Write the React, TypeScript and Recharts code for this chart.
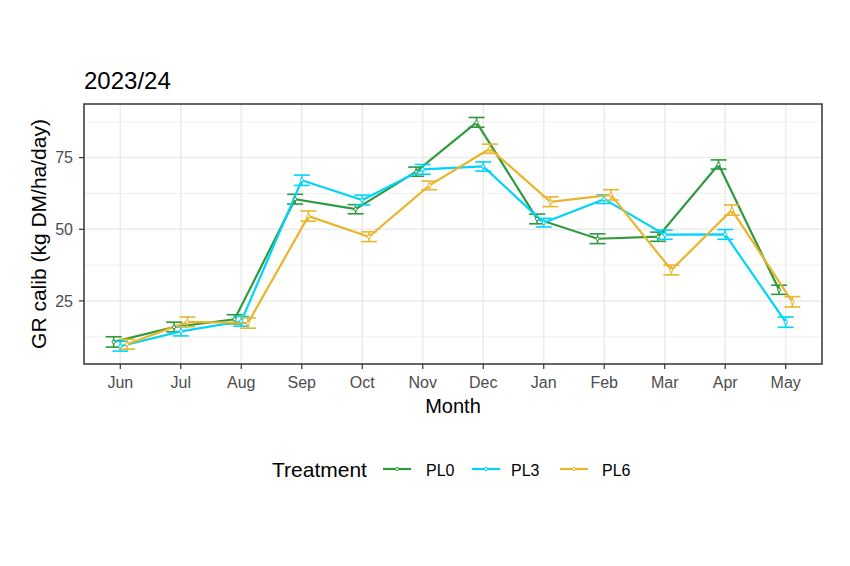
import React from 'react';
import { ComposedChart, Line, XAxis, YAxis, CartesianGrid, ErrorBar } from 'recharts';

const months = ['Jun', 'Jul', 'Aug', 'Sep', 'Oct', 'Nov', 'Dec', 'Jan', 'Feb', 'Mar', 'Apr', 'May'];

const pl0 = [10.7, 15.9, 18.6, 60.5, 57.0, 70.1, 87.3, 53.6, 46.7, 47.4, 72.6, 28.9];
const pl0Err = [1.8, 1.7, 1.6, 1.7, 1.6, 1.6, 1.7, 1.7, 1.7, 1.6, 1.6, 1.6];
const pl3 = [9.2, 14.4, 17.9, 67.1, 60.2, 70.9, 71.9, 52.3, 60.5, 48.1, 48.2, 17.6];
const pl3Err = [1.7, 1.6, 1.7, 1.8, 1.7, 1.7, 1.6, 1.5, 1.5, 1.6, 1.7, 1.8];
const pl6 = [9.9, 17.7, 17.3, 54.6, 47.4, 65.3, 78.1, 59.6, 62.0, 35.8, 56.7, 24.7];
const pl6Err = [1.7, 1.7, 1.8, 1.8, 1.7, 1.5, 1.6, 1.7, 1.8, 1.7, 1.8, 1.8];

const yTicks = [25, 50, 75];
const yMinor = [12.5, 37.5, 62.5, 87.5];
const xTicks = months.map((_, i) => i);

const GREEN = '#2E9A3E';
const CYAN = '#00D4FA';
const YELLOW = '#E9B52B';

const series = [
  { name: 'PL0', values: pl0, errs: pl0Err, color: GREEN, dodge: -0.11 },
  { name: 'PL3', values: pl3, errs: pl3Err, color: CYAN, dodge: 0 },
  { name: 'PL6', values: pl6, errs: pl6Err, color: YELLOW, dodge: 0.11 },
];

const build = (values: number[], errs: number[], dodge: number) =>
  values.map((v, i) => ({ x: i + dodge, y: v, err: errs[i] }));

const FONT = '"Liberation Sans", Arial, sans-serif';

export default function App() {
  const W = 850;
  const H = 566;
  const left = 84;
  const top = 104;
  const right = 822;
  const bottom = 364;
  return (
    <div style={{ position: 'absolute', left: 0, top: 0, width: W, height: H, background: '#fff', fontFamily: FONT }}>
      <ComposedChart
        width={W}
        height={H}
        margin={{ top: top, right: W - right, bottom: 172, left: 0 }}
      >
        <CartesianGrid
          horizontalValues={yMinor}
          vertical={false}
          stroke="#EBEBEB"
          strokeWidth={0.8}
          fill="none"
        />
        <CartesianGrid
          horizontalValues={yTicks}
          verticalValues={xTicks}
          stroke="#EBEBEB"
          strokeWidth={1.5}
          fill="none"
        />
        <XAxis
          type="number"
          dataKey="x"
          domain={[-0.6, 11.6]}
          ticks={xTicks}
          tickFormatter={(v: number) => months[Math.round(v)]}
          allowDataOverflow
          axisLine={false}
          tickLine={{ stroke: '#333333', strokeWidth: 1.2 }}
          tickSize={5}
          tickMargin={8}
          height={30}
          interval={0}
          tick={{ fill: '#4D4D4D', fontSize: 16, fontFamily: FONT }}
        />
        <YAxis
          type="number"
          domain={[3.0, 93.7]}
          ticks={yTicks}
          allowDataOverflow
          axisLine={false}
          tickLine={{ stroke: '#333333', strokeWidth: 1.2 }}
          tickSize={5}
          tickMargin={6}
          width={left}
          tick={{ fill: '#4D4D4D', fontSize: 16, fontFamily: FONT }}
        />
        {series.map((s) => (
          <Line
            key={s.name}
            data={build(s.values, s.errs, s.dodge)}
            dataKey="y"
            name={s.name}
            type="linear"
            stroke={s.color}
            strokeWidth={2.2}
            dot={{ r: 1.6, fill: '#fff', stroke: s.color, strokeWidth: 1 }}
            activeDot={false}
            isAnimationActive={false}
          >
            <ErrorBar dataKey="err" width={8} strokeWidth={1.6} stroke={s.color} direction="y" />
          </Line>
        ))}
      </ComposedChart>
      <svg
        width={W}
        height={H}
        style={{ position: 'absolute', left: 0, top: 0, pointerEvents: 'none' }}
        fontFamily={FONT}
      >
        <rect x={left} y={top} width={right - left} height={bottom - top} fill="none" stroke="#333333" strokeWidth={1.5} />
        <text x={84} y={89} fontSize={24} fill="#000">2023/24</text>
        <text x={(left + right) / 2} y={413} fontSize={20} fill="#000" textAnchor="middle">Month</text>
        <text transform={`translate(46,${(top + bottom) / 2}) rotate(-90)`} fontSize={21} fill="#000" textAnchor="middle">
          GR calib (kg DM/ha/day)
        </text>
        <text x={272} y={477} fontSize={21} fill="#000">Treatment</text>
        {[
          { name: 'PL0', color: GREEN, kx: 383, tx: 426 },
          { name: 'PL3', color: CYAN, kx: 472, tx: 511 },
          { name: 'PL6', color: YELLOW, kx: 560, tx: 602 },
        ].map((l) => (
          <g key={l.name}>
            <line x1={l.kx} x2={l.kx + 28} y1={469} y2={469} stroke={l.color} strokeWidth={2.2} />
            <circle cx={l.kx + 14} cy={469} r={1.6} fill="#fff" stroke={l.color} strokeWidth={1} />
            <text x={l.tx} y={476} fontSize={16} fill="#000">{l.name}</text>
          </g>
        ))}
      </svg>
    </div>
  );
}
